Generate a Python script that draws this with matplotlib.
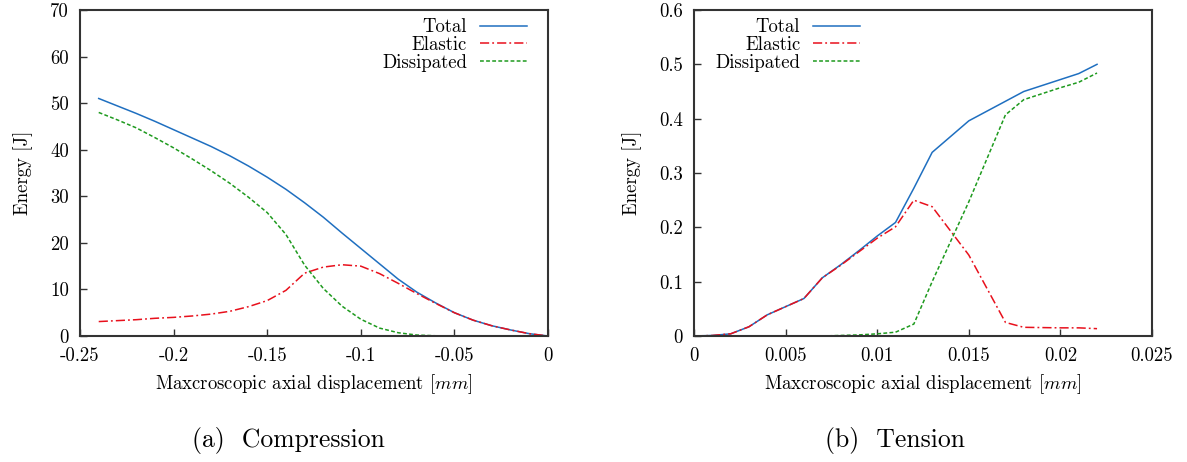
#!/usr/bin/env python3

import matplotlib
matplotlib.use("Agg")
import matplotlib.pyplot as plt
from matplotlib.ticker import FuncFormatter, MultipleLocator

# compression data
comp_x = [-0.24, -0.23, -0.22, -0.21, -0.20, -0.19, -0.18, -0.17, -0.16, -0.15, -0.14, -0.13,
          -0.12, -0.11, -0.10, -0.09, -0.08, -0.07, -0.06, -0.05, -0.04, -0.03, -0.02, -0.01, 0.0]
comp_total = [51.0, 49.4, 47.8, 46.1, 44.3, 42.5, 40.7, 38.7, 36.5, 34.1, 31.5, 28.6,
              25.5, 22.1, 18.8, 15.5, 12.2, 9.4, 7.1, 5.0, 3.4, 2.2, 1.3, 0.5, 0.0]
comp_elastic = [3.1, 3.3, 3.5, 3.8, 4.0, 4.3, 4.7, 5.3, 6.3, 7.6, 9.8, 13.5,
                14.8, 15.3, 15.0, 13.4, 11.3, 9.1, 7.0, 5.0, 3.4, 2.2, 1.3, 0.5, 0.0]
comp_dissipated = [48.0, 46.4, 44.7, 42.6, 40.4, 38.0, 35.5, 32.8, 29.8, 26.5, 21.8, 15.2,
                   10.2, 6.4, 3.6, 1.7, 0.7, 0.2, 0.05, 0.0, 0.0, 0.0, 0.0, 0.0, 0.0]

# tension data
tens_x = [0.0, 0.001, 0.002, 0.003, 0.004, 0.005, 0.006, 0.007, 0.008, 0.009, 0.010,
          0.011, 0.012, 0.013, 0.015, 0.017, 0.018, 0.020, 0.021, 0.022]
tens_total = [0.0, 0.001, 0.004, 0.017, 0.039, 0.054, 0.069, 0.107, 0.131, 0.157, 0.184,
              0.209, 0.272, 0.338, 0.396, 0.432, 0.450, 0.472, 0.483, 0.500]
tens_elastic = [0.0, 0.001, 0.004, 0.017, 0.039, 0.054, 0.069, 0.107, 0.130, 0.155, 0.180,
                0.201, 0.250, 0.238, 0.149, 0.025, 0.016, 0.015, 0.015, 0.0135]
tens_dissipated = [0.0, 0.0, 0.0, 0.0, 0.0, 0.0, 0.0, 0.0, 0.001, 0.002, 0.004,
                   0.007, 0.022, 0.100, 0.247, 0.407, 0.435, 0.457, 0.467, 0.484]

series_labels = ["Total", "Elastic", "Dissipated"]
captions = ["(a)  Compression", "(b)  Tension"]

plt.rcParams["font.family"] = ["cmr10", "DejaVu Serif"]
plt.rcParams["mathtext.fontset"] = "cm"
plt.rcParams["axes.unicode_minus"] = False
plt.rcParams["font.size"] = 13.5

colors = ["#1f6fc0", "#e8101c", "#1e9a1e"]
styles = ["-", (0, (6, 2, 1.2, 2)), (0, (2.5, 1.5))]

fig = plt.figure(figsize=(11.87, 4.62), dpi=100)
ax1 = fig.add_axes([80 / 1187, 126 / 462, 468 / 1187, 326 / 462])
ax2 = fig.add_axes([694 / 1187, 126 / 462, 458 / 1187, 326 / 462])

fmt = FuncFormatter(lambda v, pos: "%g" % round(v, 6))


def draw(ax, x, ys, xlim, ylim, xstep, ystep, anchor):
    for y, lab, c, ls in zip(ys, series_labels, colors, styles):
        ax.plot(x, y, color=c, linestyle=ls, linewidth=1.1, label=lab)
    ax.set_xlim(*xlim)
    ax.set_ylim(*ylim)
    ax.xaxis.set_major_locator(MultipleLocator(xstep))
    ax.yaxis.set_major_locator(MultipleLocator(ystep))
    ax.xaxis.set_major_formatter(fmt)
    ax.yaxis.set_major_formatter(fmt)
    ax.tick_params(direction="in", length=5, width=1, colors="#333333", labelcolor="black", pad=8)
    for s in ax.spines.values():
        s.set_linewidth(1.5)
        s.set_color("#333333")
    ax.set_xlabel("Maxcroscopic axial displacement [$mm$]", labelpad=5)
    ax.set_ylabel("Energy [J]", labelpad=12)
    ax.legend(loc="upper right", bbox_to_anchor=anchor, frameon=False, markerfirst=False,
              handlelength=2.5, handletextpad=0.7, labelspacing=0.0, borderpad=0, borderaxespad=0)


draw(ax1, comp_x, [comp_total, comp_elastic, comp_dissipated],
     (-0.25, 0), (0, 70), 0.05, 10, (0.955, 0.975))
draw(ax2, tens_x, [tens_total, tens_elastic, tens_dissipated],
     (0, 0.025), (0, 0.6), 0.005, 0.1, (0.363, 0.975))

fig.text(288 / 1187, 1 - 440 / 462, captions[0], ha="center", va="center", fontsize=18.5)
fig.text(895 / 1187, 1 - 440 / 462, captions[1], ha="center", va="center", fontsize=18.5)

plt.savefig("out.png", dpi=100)
